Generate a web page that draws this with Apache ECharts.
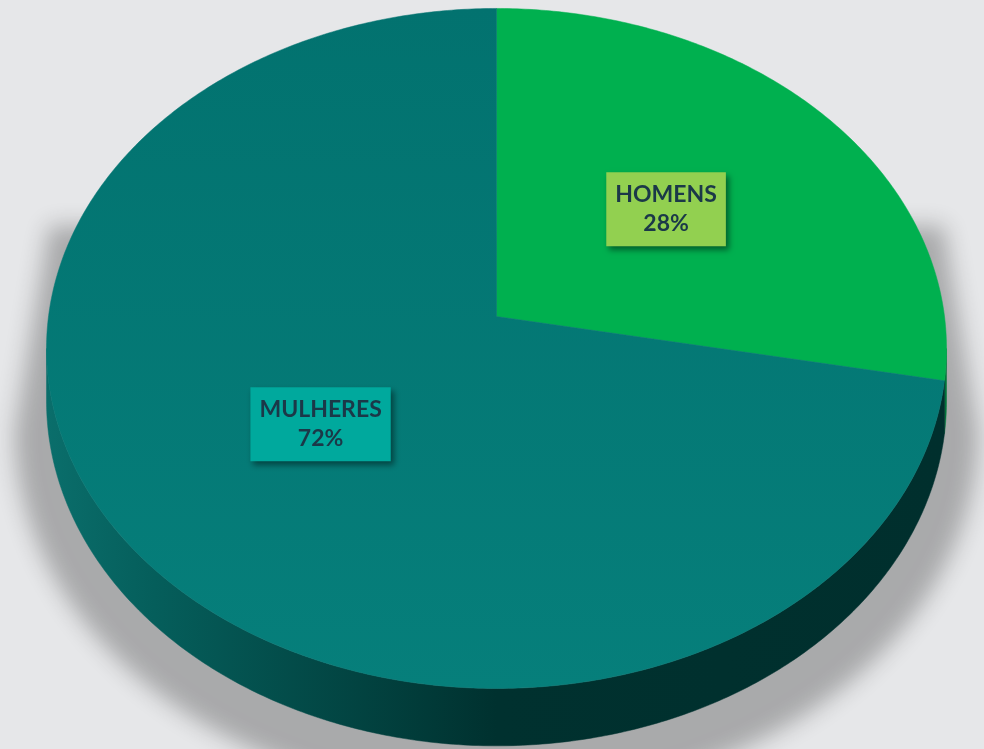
<!DOCTYPE html>
<html>
<head>
<meta charset="utf-8">
<title>Homens x Mulheres</title>
<script src="https://cdn.jsdelivr.net/npm/echarts@6/dist/echarts.min.js"></script>
<style>
  html, body { margin: 0; padding: 0; background: #e6e7e9; }
  #chart { width: 984px; height: 749px; }
</style>
</head>
<body>
<div id="chart"></div>
<script>
const CATEGORIES = ['HOMENS', 'MULHERES']
const SHARES = [28, 72]
const TOP_COLORS = ['#00b04f', '#047976']
const SIDE_COLORS = ['#00743a', null]
const LABEL_COLORS = ['#92d050', '#00a99d']

// projection of the tilted disc
const CX = 496.5
const CY = 316.5
const RX = 448
const RY = 337
const K = 0.094
const DEPTH = 52
const FRONT_START = Math.PI / 2 + Math.asin(K)
const FRONT_END = 3 * Math.PI / 2 - Math.asin(K)

function proj(theta, r, drop) {
  const u = r * Math.sin(theta)
  const v = -r * Math.cos(theta)
  const w = 1 - K * v
  return [CX + RX * u / w, CY + (RY * v + drop) / w]
}

function sliceAngles(i) {
  const total = SHARES.reduce((a, b) => a + b, 0)
  const before = SHARES.slice(0, i).reduce((a, b) => a + b, 0)
  return [before / total * Math.PI * 2, (before + SHARES[i]) / total * Math.PI * 2]
}

function arc(a0, a1, r, drop) {
  const n = Math.max(2, Math.ceil((a1 - a0) / 0.01))
  const pts = []
  for (let j = 0; j <= n; j++) pts.push(proj(a0 + (a1 - a0) * j / n, r, drop))
  return pts
}

const sideGradient = new echarts.graphic.LinearGradient(47, 0, 946, 0, [
  { offset: 0, color: '#0a6e6b' },
  { offset: 0.12, color: '#055e5b' },
  { offset: 0.5, color: '#00312f' },
  { offset: 1, color: '#002f2d' }
], true)

const topGradient = new echarts.graphic.LinearGradient(0, 8, 0, 690, [
  { offset: 0, color: '#02726f' },
  { offset: 1, color: '#067f7b' }
], true)

const chart = echarts.init(document.getElementById('chart'))

chart.setOption({
  animation: false,
  backgroundColor: '#e6e7e9',
  series: [
    {
      // soft drop shadow behind the disc
      type: 'custom',
      coordinateSystem: 'none',
      z: 1,
      silent: true,
      data: [SHARES.reduce((a, b) => a + b, 0)],
      renderItem() {
        const s = 1.07
        const bottom = arc(FRONT_START, FRONT_END, 1, DEPTH).map(([x, y]) => [
          CX + (x - CX) * s - 3000, 230 + (y - 230) * s + 18
        ])
        const pts = [[CX + 447 - 3000, 226]].concat(bottom, [[CX - 447 - 3000, 226]])
        return {
          type: 'polygon',
          shape: { points: pts },
          style: {
            fill: '#000',
            shadowColor: 'rgba(40,40,40,0.32)',
            shadowBlur: 22,
            shadowOffsetX: 3000,
            shadowOffsetY: 0
          }
        }
      }
    },
    {
      // outer wall
      type: 'custom',
      coordinateSystem: 'none',
      z: 2,
      silent: true,
      data: SHARES,
      renderItem(params) {
        const i = params.dataIndex
        const [a0, a1] = sliceAngles(i)
        const s = Math.max(a0, FRONT_START)
        const e = Math.min(a1, FRONT_END)
        if (e <= s) return { type: 'group', children: [] }
        const pts = arc(s, e, 1, 0).concat(arc(s, e, 1, DEPTH).reverse())
        return {
          type: 'polygon',
          shape: { points: pts },
          style: { fill: SIDE_COLORS[i] || sideGradient, stroke: SIDE_COLORS[i] || sideGradient, lineWidth: 0.5 }
        }
      }
    },
    {
      // top face and labels
      type: 'custom',
      coordinateSystem: 'none',
      z: 3,
      silent: true,
      data: SHARES,
      renderItem(params) {
        const i = params.dataIndex
        const [a0, a1] = sliceAngles(i)
        const pts = [proj(0, 0, 0)].concat(arc(a0, a1, 1, 0))
        const fill = i === 1 ? topGradient : TOP_COLORS[i]
        const [lx, ly] = proj((a0 + a1) / 2, 0.5, 0)
        return {
          type: 'group',
          children: [
            {
              type: 'polygon',
              shape: { points: pts },
              style: { fill: fill, stroke: fill, lineWidth: 0.5 }
            },
            {
              type: 'text',
              x: lx + 2,
              y: ly - 3,
              z2: 10,
              style: {
                text: CATEGORIES[i] + '\n' + SHARES[i] + '%',
                font: 'bold 23px Lato, "Open Sans", sans-serif',
                fill: '#1b3848',
                align: 'center',
                verticalAlign: 'middle',
                lineHeight: 29,
                backgroundColor: LABEL_COLORS[i],
                padding: [8, 9, 8, 9],
                shadowColor: 'rgba(0,0,0,0.45)',
                shadowBlur: 6,
                shadowOffsetX: 3,
                shadowOffsetY: 4
              }
            }
          ]
        }
      }
    }
  ]
})

window.addEventListener('resize', () => chart.resize())
</script>
</body>
</html>
